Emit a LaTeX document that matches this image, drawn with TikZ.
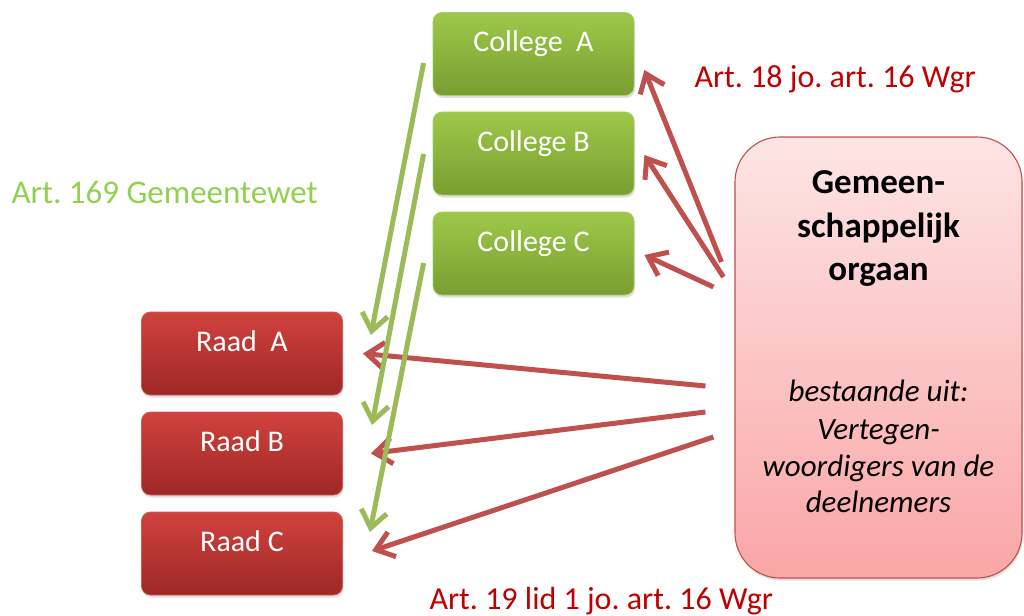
\documentclass[tikz,border=0pt]{standalone}
\usepackage{fontspec}
\setmainfont{Carlito}
\frenchspacing
\usetikzlibrary{arrows.meta,calc,shadows}

\definecolor{colTop}{RGB}{158,200,74}
\definecolor{colBot}{RGB}{120,158,48}
\definecolor{colEdge}{RGB}{170,205,105}
\definecolor{raadTop}{RGB}{208,66,62}
\definecolor{raadBot}{RGB}{158,40,38}
\definecolor{raadEdge}{RGB}{205,90,88}
\definecolor{gemTop}{RGB}{253,229,229}
\definecolor{gemBot}{RGB}{250,166,166}
\definecolor{gemEdge}{RGB}{192,80,77}
\definecolor{arrGreen}{RGB}{155,187,89}
\definecolor{arrRed}{RGB}{192,80,77}
\definecolor{lblGreen}{RGB}{146,208,80}
\definecolor{lblRed}{RGB}{192,0,0}

\tikzset{
  softshadow/.style={drop shadow={opacity=0.25, shadow xshift=1pt, shadow yshift=-2.5pt}},
  boxbase/.style={rectangle, rounded corners=9pt, minimum width=201pt, minimum height=83pt,
    line width=0.8pt, text=white, font=\fontsize{30}{36}\selectfont,
    text height=21pt, text depth=25pt, softshadow},
  colbox/.style={boxbase, top color=colTop, bottom color=colBot, draw=colEdge},
  raadbox/.style={boxbase, top color=raadTop, bottom color=raadBot, draw=raadEdge},
  gembox/.style={rectangle, rounded corners=45pt, minimum width=287pt, minimum height=441pt,
    top color=gemTop, bottom color=gemBot, draw=gemEdge, line width=1.1pt, softshadow},
  gemtitle/.style={anchor=base, font=\bfseries\fontsize{35}{42}\selectfont},
  gemsub/.style={anchor=base, font=\itshape\fontsize{31}{37}\selectfont},
  lbl/.style={anchor=base west, font=\fontsize{32}{38}\selectfont},
  greenarrow/.style={draw=arrGreen, line width=5pt,
    -{Straight Barb[length=17pt, width=26pt, line width=5pt]}},
  redarrow/.style={draw=arrRed, line width=5pt,
    -{Straight Barb[length=17pt, width=26pt, line width=5pt]}},
}

\begin{document}
\begin{tikzpicture}[x=1pt, y=-1pt]
  \useasboundingbox (0,0) rectangle (1024,615);

  % Colleges
  \node[colbox] (colA) at (533.5,54)    {College\ \ A};
  \node[colbox] (colB) at (533.5,153.5) {College B};
  \node[colbox] (colC) at (533.5,253.5) {College C};

  % Raden
  \node[raadbox] (raadA) at (242,353.5) {Raad\ \ A};
  \node[raadbox] (raadB) at (242,453.5) {Raad B};
  \node[raadbox] (raadC) at (242,553.5) {Raad C};

  % Gemeenschappelijk orgaan
  \node[gembox] (gem) at (878.5,357.5) {};
  \node[gemtitle] (gt1) at (878.5,193) {Gemeen-};
  \node[gemtitle] (gt2) at (878.5,237) {schappelijk};
  \node[gemtitle] (gt3) at (878.5,280) {orgaan};
  \node[gemsub] (gs1) at (878.5,401) {bestaande uit:};
  \node[gemsub] (gs2) at (878.5,439) {Vertegen-};
  \node[gemsub] (gs3) at (878.5,476) {woordigers van de};
  \node[gemsub] (gs4) at (878.5,512) {deelnemers};

  % Labels
  \node[lbl, text=lblGreen, font=\fontsize{33}{39}\selectfont] (lawGem) at (8,203) {Art. 169 Gemeentewet};
  \node[lbl, text=lblRed] (lawCol) at (691,88) {Art. 18 jo. art. 16 Wgr};
  \node[lbl, text=lblRed] (lawRaad) at (426,609) {Art. 19 lid 1 jo. art. 16 Wgr};

  % Gemeenschappelijk orgaan -> colleges and raden
  \draw[redarrow] ($(gem.west)+(-13,-95.5)$) -- ($(colA.east)+(10,16)$);
  \draw[redarrow] ($(gem.west)+(-11,-80.5)$) -- ($(colB.east)+(10,1.5)$);
  \draw[redarrow] ($(gem.west)+(-21,-70.5)$) -- ($(colC.east)+(10,1.5)$);
  \draw[redarrow] ($(gem.west)+(-29,28.5)$) -- ($(raadA.east)+(20,0)$);
  \draw[redarrow] ($(gem.west)+(-29,54.5)$) -- ($(raadB.east)+(28,0)$);
  \draw[redarrow] ($(gem.west)+(-21,79.5)$) -- ($(raadC.east)+(29,-2.5)$);

  % Colleges -> raden
  \draw[greenarrow] ($(colA.west)+(-9,9)$)   -- ($(raadA.east)+(28,-18.5)$);
  \draw[greenarrow] ($(colB.west)+(-9,0.5)$) -- ($(raadB.east)+(29,-28.5)$);
  \draw[greenarrow] ($(colC.west)+(-9,9.5)$) -- ($(raadC.east)+(27,-21.5)$);
\end{tikzpicture}
\end{document}
